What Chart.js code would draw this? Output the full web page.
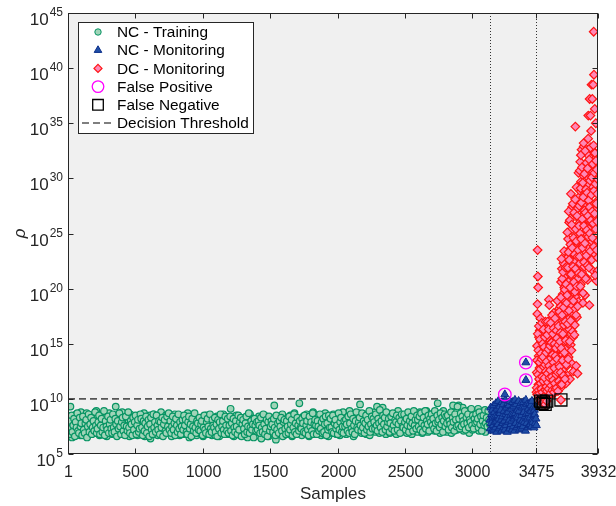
<!DOCTYPE html>
<html>
<head>
<meta charset="utf-8">
<title>rho vs samples</title>
<script src="https://cdn.jsdelivr.net/npm/chart.js@4.4.1/dist/chart.umd.min.js"></script>
<style>
  html, body { margin: 0; padding: 0; background: #fff; }
  #wrap { width: 616px; height: 506px; position: relative; }
</style>
</head>
<body>
<div id="wrap"><canvas id="rhoChart"></canvas></div>
<script>
// ---- data (log10 of rho) ----
const xTicks = [1, 500, 1000, 1500, 2000, 2500, 3000, 3475, 3932];
const yTickExp = [5, 10, 15, 20, 25, 30, 35, 40, 45];
const phaseSplits = [3130, 3475];     // end of training / start of fault
const threshold = 1e10;

// NC - Training, samples 1, 7, 13, ... (every 6th)
const trainStartA = 1, trainStep = 6;
const trainLogA = [
  7.4, 8.1, 6.9, 9.3, 7.7, 6.5, 8.4, 7.2, 7.9, 6.8, 8.6, 7.5, 7.0, 8.2, 7.6, 6.7, 8.8, 7.3,
  7.8, 6.9, 8.3, 7.1, 7.6, 8.7, 6.6, 7.9, 7.4, 8.0, 6.8, 8.5, 7.2, 7.7, 6.9, 8.2, 7.5, 8.9,
  7.0, 8.4, 7.6, 6.7, 8.0, 7.3, 8.6, 6.9, 7.8, 7.1, 8.3, 7.5, 6.6, 8.1, 7.4, 8.7, 7.0, 7.9,
  8.2, 6.8, 7.6, 8.5, 7.1, 9.3, 7.4, 6.7, 8.0, 7.7, 8.4, 6.9, 7.3, 8.8, 7.5, 7.0, 8.1, 7.6,
  6.8, 8.3, 7.5, 7.9, 6.6, 8.6, 7.2, 8.0, 7.4, 6.9, 8.4, 7.7, 7.1, 8.2, 6.7, 7.8, 8.5, 7.3,
  7.6, 6.9, 8.1, 7.4, 8.7, 6.6, 7.9, 7.2, 8.3, 7.0, 7.7, 8.5, 6.4, 7.5, 8.0, 7.3, 8.6, 6.8,
  7.9, 7.2, 8.4, 6.7, 7.6, 8.1, 7.0, 8.8, 7.4, 6.8, 8.2, 7.5, 7.1, 8.5, 6.9, 7.8, 7.3, 8.0,
  7.1, 8.3, 6.6, 7.7, 8.0, 7.3, 8.6, 6.9, 7.5, 8.2, 7.0, 7.8, 6.7, 8.4, 7.4, 7.9, 6.8, 8.1,
  7.5, 6.9, 8.2, 7.2, 8.7, 7.6, 6.5, 8.0, 7.3, 7.9, 6.8, 8.4, 7.1, 7.7, 8.3, 6.7, 7.4, 8.0,
  6.9, 7.8, 7.2, 8.3, 7.5, 6.6, 8.1, 7.0, 7.7, 8.5, 6.8, 7.4, 8.0, 7.1, 7.6, 8.2, 6.7, 7.3,
  8.0, 7.2, 6.7, 7.8, 8.4, 7.0, 7.5, 6.6, 8.2, 7.3, 7.9, 6.9, 8.6, 7.4, 7.1, 8.1, 6.8, 7.6,
  7.3, 8.0, 6.8, 9.1, 7.5, 7.0, 8.3, 6.6, 7.7, 7.2, 8.5, 6.9, 7.8, 7.4, 8.1, 6.7, 7.5, 8.2,
  7.0, 7.6, 8.3, 6.8, 7.9, 7.3, 6.5, 8.1, 7.5, 8.6, 7.1, 7.7, 6.9, 8.2, 7.4, 6.6, 8.0, 7.2,
  7.8, 6.7, 8.4, 7.2, 7.6, 6.4, 8.1, 7.0, 7.9, 8.5, 6.8, 7.4, 8.2, 7.1, 6.6, 7.7, 8.3, 7.3,
  6.9, 8.0, 7.5, 9.4, 7.1, 6.3, 8.4, 7.7, 7.0, 8.2, 7.4, 6.8, 7.9, 8.6, 7.2, 6.7, 8.1, 7.5,
  7.6, 7.0, 8.3, 6.8, 7.8, 8.5, 7.2, 6.6, 8.0, 7.4, 8.7, 7.1, 7.9, 6.9, 8.2, 7.5, 9.6, 7.3,
  8.1, 6.7, 7.6, 8.4, 7.0, 7.8, 6.9, 8.6, 7.3, 8.0, 6.6, 7.5, 8.3, 7.1, 7.7, 8.8, 6.8, 7.4,
  7.9, 7.2, 8.5, 6.9, 7.6, 8.1, 7.0, 6.7, 8.3, 7.4, 7.8, 6.8, 8.7, 7.5, 7.1, 8.0, 6.6, 7.7,
  7.3, 8.2, 6.9, 7.7, 8.6, 7.0, 7.5, 8.1, 6.8, 7.9, 7.2, 8.4, 6.7, 7.6, 8.0, 7.4, 8.8, 7.1,
  8.0, 7.4, 6.8, 8.3, 7.7, 7.1, 8.9, 6.9, 7.6, 8.2, 7.3, 6.6, 8.5, 7.8, 7.0, 8.1, 7.5, 8.7,
  7.2, 9.5, 7.8, 6.9, 8.4, 7.5, 8.0, 7.1, 8.6, 6.8, 7.7, 8.2, 7.4, 6.7, 8.5, 7.9, 7.3, 8.1,
  7.6, 8.8, 7.0, 8.3, 9.3, 7.4, 7.9, 6.9, 8.5, 7.2, 8.1, 9.2, 7.7, 7.1, 8.4, 6.8, 7.8, 8.0,
  7.5, 8.2, 6.9, 7.9, 8.6, 7.3, 8.0, 7.1, 7.7, 8.4, 6.8, 7.6, 8.9, 7.2, 8.1, 7.4, 7.0, 8.3,
  7.8, 7.1, 8.5, 7.4, 8.0, 6.9, 7.7, 8.7, 7.3, 8.2, 7.6, 6.8, 8.4, 7.9, 7.2, 8.6, 7.5, 8.1,
  7.0, 8.3, 7.7, 8.8, 7.3, 7.9, 6.9, 8.5, 7.6, 8.1, 7.2, 8.9, 7.5, 7.0, 8.2, 7.8, 8.6, 7.4,
  8.0, 7.4, 8.7, 7.1, 7.9, 8.3, 7.6, 9.6, 7.3, 8.1, 6.9, 7.8, 8.5, 7.5, 8.9, 7.2, 8.0, 7.7,
  8.4, 7.0, 7.9, 8.6, 7.5, 8.2, 6.9, 7.7, 9.4, 7.3, 8.0, 7.6, 8.8, 7.2, 8.3, 9.4, 7.8, 7.4,
  8.1, 7.6, 9.2, 7.1, 8.5, 7.9, 7.3, 8.7, 7.5, 8.2, 6.9, 9.0, 7.7, 8.4, 7.2, 8.0, 7.8, 8.6,
  7.4, 8.3, 7.9, 9.1, 7.1, 8.6, 7.6, 8.0, 7.3, 8.8, 7.7, 8.2, 7.0, 8.5, 7.5, 8.1, 7.8, 8.4
];

// NC - Training, samples 4, 10, 16, ... (every 6th)
const trainStartB = 4;
const trainLogB = [
  7.7, 6.8, 8.0, 7.3, 8.5, 7.0, 7.6, 8.2, 6.6, 7.9, 7.4, 8.7, 7.1, 6.9, 8.3, 7.5, 7.8, 6.7,
  8.4, 7.2, 6.9, 7.8, 8.1, 6.5, 7.5, 8.6, 7.0, 7.7, 8.3, 6.8, 7.4, 8.0, 7.1, 8.8, 7.6, 6.9,
  7.3, 7.9, 8.5, 6.8, 7.6, 8.2, 7.0, 7.4, 8.9, 6.7, 8.0, 7.5, 7.2, 8.4, 6.9, 7.7, 8.1, 7.3,
  6.9, 8.6, 7.4, 7.0, 8.2, 7.7, 6.6, 8.0, 7.3, 8.7, 7.5, 6.8, 7.9, 8.3, 7.1, 7.6, 6.7, 8.4,
  7.5, 7.1, 8.8, 7.4, 6.9, 8.0, 7.7, 6.7, 8.3, 7.2, 7.9, 8.5, 6.8, 7.6, 8.1, 7.0, 7.3, 8.6,
  8.2, 7.4, 6.7, 8.0, 7.1, 7.8, 8.4, 6.9, 7.5, 8.1, 6.6, 7.7, 8.3, 7.2, 6.8, 8.6, 7.4, 7.9,
  7.0, 8.5, 7.6, 7.2, 8.0, 6.8, 7.9, 7.4, 8.3, 6.6, 7.7, 8.1, 7.1, 6.9, 8.4, 7.5, 8.7, 7.2,
  8.0, 6.9, 7.5, 8.4, 7.2, 7.8, 6.7, 8.2, 7.6, 7.0, 8.6, 7.3, 7.9, 6.8, 7.5, 8.1, 7.2, 8.5,
  7.6, 8.1, 7.0, 6.8, 7.9, 8.4, 7.3, 7.7, 6.6, 8.2, 7.5, 7.1, 8.7, 7.4, 6.9, 8.0, 7.8, 7.2,
  8.3, 7.1, 7.7, 8.0, 6.7, 7.4, 8.5, 7.2, 6.9, 7.9, 8.2, 7.5, 6.8, 8.6, 7.3, 7.0, 8.1, 7.6,
  7.4, 8.3, 7.0, 7.7, 6.6, 8.1, 7.3, 7.9, 8.6, 6.9, 7.5, 8.0, 7.2, 6.8, 8.4, 7.6, 7.1, 8.2,
  6.9, 7.6, 8.4, 7.1, 7.8, 6.7, 8.2, 7.4, 7.0, 8.0, 7.5, 6.8, 8.5, 7.2, 7.9, 8.3, 6.6, 7.7,
  8.1, 7.3, 6.8, 7.8, 8.4, 7.0, 7.5, 8.7, 6.9, 7.4, 8.0, 7.2, 7.7, 6.5, 8.2, 7.6, 7.1, 7.9,
  7.2, 8.0, 7.6, 6.9, 8.3, 7.4, 7.0, 8.6, 7.7, 6.8, 7.3, 8.1, 6.6, 7.9, 8.4, 7.1, 7.5, 8.0,
  7.7, 7.0, 8.2, 7.4, 6.7, 8.5, 7.2, 7.8, 6.9, 8.0, 7.5, 8.3, 7.1, 6.6, 7.9, 8.1, 7.3, 6.8,
  8.0, 7.5, 6.9, 8.4, 7.2, 7.7, 8.1, 6.7, 7.4, 8.6, 7.0, 7.8, 6.8, 8.3, 7.6, 7.1, 8.0, 7.4,
  7.3, 8.2, 7.8, 7.0, 8.5, 6.9, 7.6, 8.0, 7.2, 6.7, 8.4, 7.5, 7.9, 7.1, 8.7, 6.8, 7.7, 8.1,
  7.6, 6.8, 8.0, 7.5, 7.1, 8.6, 7.3, 7.9, 6.9, 8.2, 7.0, 7.7, 8.4, 6.7, 7.8, 7.2, 8.5, 7.4,
  8.2, 7.4, 7.0, 8.5, 6.9, 7.8, 8.1, 7.3, 7.6, 6.8, 8.7, 7.2, 7.9, 8.3, 7.0, 7.5, 6.9, 8.0,
  7.5, 8.1, 7.7, 7.1, 8.4, 6.9, 7.8, 8.6, 7.3, 7.0, 8.2, 7.6, 6.8, 8.0, 8.8, 7.4, 7.2, 7.9,
  8.3, 7.6, 7.1, 8.7, 7.4, 8.0, 6.9, 7.8, 8.5, 7.2, 8.1, 7.5, 8.9, 7.0, 7.7, 8.4, 7.3, 8.2,
  7.9, 7.3, 8.6, 7.6, 7.1, 8.2, 7.8, 9.0, 7.4, 8.0, 7.0, 8.5, 7.7, 8.3, 7.2, 8.8, 7.5, 7.9,
  8.2, 7.0, 7.8, 8.4, 7.3, 8.7, 7.6, 7.1, 8.1, 7.9, 8.5, 7.2, 7.7, 8.3, 6.9, 8.0, 8.6, 7.5,
  7.4, 8.6, 7.9, 7.2, 8.2, 7.6, 8.8, 7.0, 8.0, 7.5, 8.4, 7.8, 7.1, 8.9, 7.6, 8.1, 7.3, 8.5,
  8.1, 7.5, 8.4, 7.2, 8.7, 7.8, 7.0, 8.3, 7.6, 8.9, 7.3, 8.0, 7.7, 8.5, 7.1, 8.2, 7.9, 8.6,
  7.6, 8.2, 7.3, 8.9, 7.8, 7.1, 8.5, 7.9, 8.1, 7.4, 8.7, 7.7, 8.3, 7.0, 8.0, 8.6, 7.5, 8.4,
  7.8, 8.5, 7.2, 8.0, 7.7, 8.8, 7.4, 8.3, 7.9, 7.1, 8.6, 8.1, 7.5, 9.3, 7.6, 8.2, 7.3, 8.7,
  7.5, 8.4, 8.0, 7.7, 8.9, 7.2, 8.3, 7.8, 8.6, 7.4, 8.1, 7.9, 9.1, 7.6, 8.5, 7.3, 8.2, 7.8,
  8.6, 7.9, 8.2, 7.4, 8.8, 7.7, 8.4, 7.1, 8.0, 8.5, 7.6, 9.0, 7.8, 8.3, 7.5, 8.9, 8.1, 7.7
];

// NC - Monitoring, samples 3130 .. 3475, every 3rd
const ncMonStart = 3130, ncMonStep = 3;
const ncMonLog = [
  8.1, 7.3, 9.2, 7.8, 8.6, 7.1, 9.0, 8.3, 7.6, 9.4, 7.2, 8.8, 7.9, 8.4, 7.4, 9.6, 8.0, 7.0, 9.1, 8.5,
  7.7, 9.8, 8.2, 7.3, 9.3, 8.7, 7.5, 9.0, 8.1, 7.1, 9.7, 8.4, 7.8, 9.5, 7.4, 8.9, 8.0, 7.2, 9.9, 8.6,
  7.6, 9.2, 8.3, 7.0, 9.6, 8.8, 7.9, 9.4, 8.1, 7.3, 9.8, 8.5, 7.7, 9.1, 8.0, 7.2, 9.7, 8.6, 7.5, 9.3,
  8.2, 7.1, 9.9, 8.7, 7.8, 9.5, 8.4, 7.4, 9.0, 8.3, 7.6, 9.8, 8.9, 7.2, 9.4, 8.1, 7.7, 9.6, 8.5, 7.3,
  9.2, 8.0, 7.5, 9.7, 8.8, 7.9, 9.3, 8.4, 7.1, 9.9, 8.6, 7.8, 9.5, 8.2, 7.4, 9.1, 8.7, 7.6, 9.6, 8.3,
  7.7, 9.4, 8.9, 7.5, 9.8, 8.1, 7.9, 9.2, 8.5, 7.4, 9.0, 8.6, 7.8, 9.3, 8.2, 7.6
];

// DC - Monitoring, samples 3476, 3478, ... 3930
const dcStartA = 3476, dcStep = 2;
const dcMonLogA = [
  10.6, 12.4, 14.8, 17.7, 23.5, 21.1, 20.1, 11.3, 13.9, 15.6, 10.9, 12.8, 16.2, 11.7, 14.3, 10.4, 13.1, 15.2, 12.1, 10.8,
  14.6, 11.9, 16.0, 13.4, 10.5, 12.6, 15.8, 11.2, 14.0, 13.0, 10.7, 15.1, 12.3, 16.4, 11.5, 13.7, 10.3,
  12.2, 14.9, 10.6, 16.7, 13.3, 11.4, 15.5, 12.7, 10.9, 19.0, 14.2, 11.8, 16.1, 13.6, 10.4, 15.0, 12.5, 17.2, 11.1, 13.9,
  14.7, 10.8, 16.5, 12.0, 15.3, 11.6, 13.2, 17.8, 10.5, 14.4, 12.9, 16.0, 11.3, 15.7, 13.5, 10.7, 14.1, 12.4, 16.8, 11.0,
  13.8, 15.4, 12.1, 17.5, 10.9, 14.6, 13.1, 18.2, 11.7, 15.9, 12.6,
  13.2, 18.4, 11.0, 20.6, 15.1, 12.3, 21.8, 16.9, 14.0, 19.5, 11.6, 17.3, 22.3, 13.7, 15.8, 20.1, 12.8, 18.9, 16.2, 14.5,
  21.2, 11.4, 17.9, 19.8, 13.0,
  15.4, 22.8, 12.1, 19.6, 24.5, 17.2, 13.8, 21.4, 26.0, 16.3, 20.7, 11.8, 23.6, 18.5, 14.9, 25.3, 19.9, 22.1, 13.2, 27.4,
  17.8, 21.0, 15.6, 24.2, 12.5, 20.3, 26.8, 18.1, 23.0, 16.7, 22.5, 34.7, 25.6, 19.2, 13.0, 27.9, 21.7, 17.4, 24.8, 12.3,
  20.9, 26.4, 18.8, 23.9, 28.3,
  24.6, 19.8, 28.9, 22.3, 31.5, 26.1, 20.4, 29.7, 23.8, 32.6, 27.2, 21.5, 25.9, 30.3, 18.7, 28.1, 24.0, 32.9, 26.7, 22.0,
  30.8, 27.6, 19.4, 25.2, 31.1, 23.3, 28.6, 21.0, 26.4, 32.2, 24.9, 29.3, 20.8, 27.9, 35.7, 23.6, 30.0, 25.5, 18.5, 37.2,
  28.4, 22.7, 35.7, 31.8, 26.0, 29.9, 38.5, 24.3, 21.7, 37.2, 30.6, 27.0, 38.5, 25.8, 43.3, 39.4, 32.4, 28.8, 36.3, 23.1,
  30.2, 26.5, 35.0, 29.4, 20.7, 31.9, 27.3, 24.4, 21.6, 28.0
];

// DC - Monitoring, samples 3477, 3479, ... 3931
const dcStartB = 3477;
const dcMonLogB = [
  11.0, 13.5, 10.4, 18.6, 15.9, 12.2, 14.4, 10.8, 16.6, 11.8, 13.3, 10.5, 15.4, 12.7, 17.3, 11.4, 14.1, 10.9, 13.6, 16.9,
  12.0, 10.6, 15.0, 13.8, 11.6, 16.3, 12.9, 10.2, 14.7, 11.9, 15.6, 13.1, 10.8, 17.0, 12.5, 14.2, 11.1,
  13.4, 10.7, 15.8, 12.3, 17.0, 11.5, 14.5, 10.9, 16.3, 13.0, 18.5, 11.9, 14.8, 12.6, 10.5, 16.9, 13.7, 11.2, 15.1, 12.0,
  17.6, 10.8, 14.0, 15.9, 11.7, 13.3, 16.4, 10.6, 12.8, 15.0, 11.4, 17.3, 13.9, 10.9, 14.6, 12.2, 16.2, 11.0, 15.5, 13.6,
  18.9, 12.4, 10.7, 14.9, 16.6, 11.6, 13.1, 17.9, 12.9, 15.2, 11.3,
  16.0, 12.4, 19.2, 14.6, 22.7, 11.3, 17.6, 20.9, 13.5, 15.9, 21.5, 12.1, 18.3, 16.7, 23.4, 14.2, 19.9, 11.8, 17.0, 21.9,
  15.3, 20.4, 13.1, 18.7, 22.0,
  19.4, 25.1, 16.8, 21.9, 13.6, 23.3, 27.0, 18.0, 22.6, 15.2, 26.2, 20.1, 24.0, 17.1, 28.6, 21.3, 14.4, 25.8, 19.0, 23.7,
  16.1, 27.7, 22.0, 18.9, 24.6, 20.6, 26.9, 15.8, 23.1, 19.7, 28.1, 21.8, 25.4, 17.6, 24.3, 29.2, 20.2, 26.6, 22.9, 18.4,
  27.3, 23.5, 30.5, 21.4, 25.7,
  27.5, 22.9, 30.7, 25.0, 20.2, 29.1, 32.1, 24.5, 27.8, 21.3, 31.0, 26.3, 23.7, 29.6, 19.6, 28.3, 33.2, 25.7, 22.4, 30.4,
  27.1, 24.1, 32.5, 26.9, 20.9, 29.0, 23.0, 31.4, 25.3, 28.7, 22.1, 30.9, 26.6, 33.6, 24.7, 28.0, 21.9, 31.7, 27.4, 25.0,
  29.8, 23.4, 32.8, 26.2, 34.3, 28.5, 22.6, 30.1, 27.0, 24.6, 31.3, 29.2, 25.9, 33.0, 23.8, 28.9, 30.5, 26.8, 32.3, 21.2,
  29.5, 25.4, 31.6, 27.7, 23.5, 30.8, 26.1, 28.6, 22.8, 29.9
];

// misclassified samples
const fpSamples = [3241, 3397, 3397];
const fpLog = [10.4, 11.7, 13.3];
const fnSamples = [3505, 3517, 3528, 3540, 3552, 3657];
const fnLog = [9.8, 9.6, 9.7, 9.5, 9.8, 9.9];

// ---- helpers ----
const FONT = '"Liberation Sans", Arial, Helvetica, sans-serif';
const AXIS = '#262626';

const COLORS = {
  trainEdge: '#079463', trainFill: '#a0d4b8',
  monEdge:   '#0a2d8a', monFill:   '#1f4ea6',
  dcEdge:    '#ff1414', dcFill:    '#ff88b6',
  fp:        '#ff00ff',
  fn:        '#000000',
  thr:       '#555555'
};

const seq = (vals, start, step) => vals.map((v, i) => ({ x: start + i * step, y: Math.pow(10, v) }));
const pairs = (xs, vals) => xs.map((s, i) => ({ x: s, y: Math.pow(10, vals[i]) }));

const trainPts = seq(trainLogA, trainStartA, trainStep).concat(seq(trainLogB, trainStartB, trainStep));
const ncMonPts = seq(ncMonLog, ncMonStart, ncMonStep).concat(pairs(fpSamples, fpLog));
const dcMonPts = seq(dcMonLogA, dcStartA, dcStep)
  .concat(seq(dcMonLogB, dcStartB, dcStep))
  .concat(pairs(fnSamples, fnLog));
const fpPts = pairs(fpSamples, fpLog);
const fnPts = pairs(fnSamples, fnLog);

const legendItems = [
  { label: 'NC - Training',      style: 'circle',   r: 3.2, fill: COLORS.trainFill, edge: COLORS.trainEdge, w: 1 },
  { label: 'NC - Monitoring',    style: 'triangle', r: 4.4, fill: COLORS.monFill,   edge: COLORS.monEdge,   w: 1 },
  { label: 'DC - Monitoring',    style: 'rectRot',  r: 4.0, fill: COLORS.dcFill,    edge: COLORS.dcEdge,    w: 1.2 },
  { label: 'False Positive',     style: 'circle',   r: 5.8, fill: 'rgba(0,0,0,0)',  edge: COLORS.fp,        w: 1.3 },
  { label: 'False Negative',     style: 'rect',     r: 7.5, fill: 'rgba(0,0,0,0)',  edge: COLORS.fn,        w: 1.3 },
  { label: 'Decision Threshold', style: 'dash' }
];

// frame, ticks, tick labels, phase lines and legend (MATLAB-like axes box)
const axesBox = {
  id: 'axesBox',
  beforeDatasetsDraw(chart) {
    const { ctx, chartArea: a, scales: { x } } = chart;
    ctx.save();
    ctx.fillStyle = '#f0f0f0';
    ctx.fillRect(a.left, a.top, a.right - a.left, a.bottom - a.top);
    ctx.strokeStyle = '#333';
    ctx.lineWidth = 1;
    ctx.setLineDash([1, 2]);
    phaseSplits.forEach(s => {
      const px = Math.round(x.getPixelForValue(s)) + 0.5;
      ctx.beginPath();
      ctx.moveTo(px, a.top);
      ctx.lineTo(px, a.bottom);
      ctx.stroke();
    });
    ctx.restore();
  },
  afterDatasetsDraw(chart) {
    const { ctx, chartArea: a, scales: { x, y } } = chart;
    const L = a.left + 0.5, R = a.right - 0.5, T = a.top + 0.5, B = a.bottom - 0.5;
    const tick = 5;
    ctx.save();
    ctx.strokeStyle = AXIS;
    ctx.fillStyle = AXIS;
    ctx.lineWidth = 1;
    ctx.setLineDash([]);
    ctx.strokeRect(L, T, R - L, B - T);

    // x ticks + labels
    ctx.font = '16px ' + FONT;
    ctx.textAlign = 'center';
    ctx.textBaseline = 'alphabetic';
    xTicks.forEach(v => {
      const px = Math.round(x.getPixelForValue(v)) + 0.5;
      ctx.beginPath();
      ctx.moveTo(px, B); ctx.lineTo(px, B - tick);
      ctx.moveTo(px, T); ctx.lineTo(px, T + tick);
      ctx.stroke();
      ctx.fillText(String(v), px, a.bottom + 23);
    });

    // y ticks + 10^n labels
    yTickExp.forEach(e => {
      const py = Math.round(y.getPixelForValue(Math.pow(10, e))) + 0.5;
      ctx.beginPath();
      ctx.moveTo(L, py); ctx.lineTo(L + tick, py);
      ctx.moveTo(R, py); ctx.lineTo(R - tick, py);
      ctx.stroke();
      const right = a.left - 5;
      ctx.textAlign = 'right';
      ctx.font = '12px ' + FONT;
      const ew = ctx.measureText(String(e)).width;
      ctx.fillText(String(e), right, py + 2);
      ctx.font = '17px ' + FONT;
      ctx.fillText('10', right - ew - 1, py + 11);
    });

    // axis titles
    ctx.textAlign = 'center';
    ctx.font = '17px ' + FONT;
    ctx.fillText('Samples', (a.left + a.right) / 2, a.bottom + 45);
    ctx.save();
    ctx.translate(25, (a.top + a.bottom) / 2);
    ctx.rotate(-Math.PI / 2);
    ctx.font = 'italic 17px ' + FONT;
    ctx.fillText('\u03C1', 0, 0);
    ctx.restore();

    // legend
    const lx = 78.5, ly = 22.5, lw = 175, lh = 111, rowH = 18.2;
    ctx.fillStyle = '#ffffff';
    ctx.fillRect(lx, ly, lw, lh);
    ctx.strokeStyle = AXIS;
    ctx.strokeRect(lx, ly, lw, lh);
    ctx.font = '15.4px ' + FONT;
    ctx.textAlign = 'left';
    ctx.textBaseline = 'middle';
    legendItems.forEach((it, i) => {
      const cy = 32 + i * rowH;
      const mx = 98;
      if (it.style === 'dash') {
        ctx.strokeStyle = COLORS.thr;
        ctx.lineWidth = 1.5;
        ctx.setLineDash([7, 4]);
        ctx.beginPath();
        ctx.moveTo(82, cy); ctx.lineTo(114, cy);
        ctx.stroke();
        ctx.setLineDash([]);
      } else {
        ctx.fillStyle = it.fill;
        ctx.strokeStyle = it.edge;
        ctx.lineWidth = it.w;
        Chart.helpers.drawPoint(ctx, { pointStyle: it.style, radius: it.r, borderWidth: it.w, rotation: 0 }, mx, cy);
      }
      ctx.fillStyle = '#000';
      ctx.fillText(it.label, 117, cy + 1);
    });
    ctx.restore();
  }
};

const ctx = document.getElementById('rhoChart').getContext('2d');
new Chart(ctx, {
  type: 'scatter',
  data: {
    datasets: [
      {
        label: 'False Negative', data: fnPts, order: 0,
        pointStyle: 'rect', pointRadius: 8.5, pointBorderWidth: 1.3,
        pointBackgroundColor: 'rgba(0,0,0,0)', pointBorderColor: COLORS.fn
      },
      {
        label: 'False Positive', data: fpPts, order: 1,
        pointStyle: 'circle', pointRadius: 6.3, pointBorderWidth: 1.3,
        pointBackgroundColor: 'rgba(0,0,0,0)', pointBorderColor: COLORS.fp
      },
      {
        label: 'DC - Monitoring', data: dcMonPts, order: 2,
        pointStyle: 'rectRot', pointRadius: 4.3, pointBorderWidth: 1.2,
        pointBackgroundColor: COLORS.dcFill, pointBorderColor: COLORS.dcEdge
      },
      {
        label: 'NC - Monitoring', data: ncMonPts, order: 3,
        pointStyle: 'triangle', pointRadius: 4.6, pointBorderWidth: 1,
        pointBackgroundColor: COLORS.monFill, pointBorderColor: COLORS.monEdge
      },
      {
        type: 'line', label: 'Decision Threshold', order: 4,
        data: [{ x: xTicks[0], y: threshold }, { x: xTicks[xTicks.length - 1], y: threshold }],
        borderColor: COLORS.thr, borderWidth: 1.6, borderDash: [7, 4],
        pointRadius: 0, fill: false
      },
      {
        label: 'NC - Training', data: trainPts, order: 5,
        pointStyle: 'circle', pointRadius: 3.3, pointBorderWidth: 1.2,
        pointBackgroundColor: COLORS.trainFill, pointBorderColor: COLORS.trainEdge
      }
    ]
  },
  options: {
    responsive: true,
    maintainAspectRatio: false,
    animation: false,
    events: [],
    layout: { padding: { left: 68, top: 13, right: 18, bottom: 52 } },
    scales: {
      x: { type: 'linear', min: 1, max: 3932, display: false },
      y: { type: 'logarithmic', min: 1e5, max: 1e45, display: false }
    },
    plugins: {
      legend: { display: false },
      tooltip: { enabled: false }
    }
  },
  plugins: [axesBox]
});
</script>
</body>
</html>
